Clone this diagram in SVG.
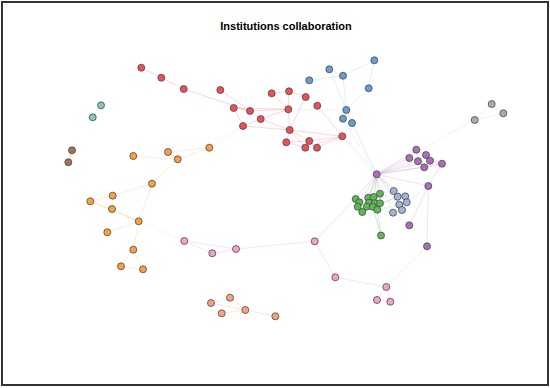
<svg xmlns="http://www.w3.org/2000/svg" width="550" height="388" viewBox="0 0 550 388">
<style>
.n{stroke:#4a4a4a;stroke-width:0.8}
.red{fill:#e9505a}.blue{fill:#6a9bd1}.green{fill:#5db85a}.purple{fill:#a96fb8}
.orange{fill:#f8a03e}.pink{fill:#f2a0cc}.brown{fill:#a8704c}.grey{fill:#ababab}
.teal{fill:#84c9b0}.salmon{fill:#f5a27c}.lblue{fill:#a3b3da}
.e{fill:none;stroke-width:1}
.er{stroke:#e8474e;stroke-opacity:0.22}
.eb{stroke:#6a9bd1;stroke-opacity:0.18}
.ep{stroke:#a96fb8;stroke-opacity:0.2}
.eo{stroke:#f8a03e;stroke-opacity:0.2}
.epk{stroke:#f2a0cc;stroke-opacity:0.3}
.eg{stroke:#5db85a;stroke-opacity:0.3}
.egr{stroke:#999;stroke-opacity:0.15}
.es{stroke:#f5a27c;stroke-opacity:0.25}
</style>
<rect x="0" y="0" width="550" height="388" fill="#fff"/>
<rect x="2" y="2" width="546" height="383" fill="none" stroke="#333" stroke-width="2"/>
<text x="286" y="30" text-anchor="middle" font-family="Liberation Sans, Arial, sans-serif" font-size="11" font-weight="bold" fill="#000">Institutions collaboration</text>
<g id="connectors">
<g class="e er">
<line x1="141.3" y1="67.7" x2="161.3" y2="77.7"/>
<line x1="161.3" y1="77.7" x2="183.7" y2="89"/>
<line x1="183.7" y1="89" x2="250" y2="111"/>
<line x1="220.3" y1="90" x2="250" y2="111"/>
<line x1="233.7" y1="108" x2="250" y2="111"/>
<line x1="233.7" y1="108" x2="243" y2="126"/>
<line x1="233.7" y1="108" x2="288.3" y2="109.3"/>
<line x1="250" y1="111" x2="260.7" y2="119"/>
<line x1="250" y1="111" x2="288.3" y2="109.3"/>
<line x1="243" y1="126" x2="260.7" y2="119"/>
<line x1="243" y1="126" x2="289.7" y2="130"/>
<line x1="260.7" y1="119" x2="288.3" y2="109.3"/>
<line x1="260.7" y1="119" x2="289.7" y2="130"/>
<line x1="271.7" y1="93.3" x2="289" y2="91.3"/>
<line x1="271.7" y1="93.3" x2="288.3" y2="109.3"/>
<line x1="289" y1="91.3" x2="288.3" y2="109.3"/>
<line x1="289" y1="91.3" x2="305.7" y2="97"/>
<line x1="305.7" y1="97" x2="289.7" y2="130"/>
<line x1="288.3" y1="109.3" x2="289.7" y2="130"/>
<line x1="317.3" y1="105.7" x2="342.3" y2="136.3"/>
<line x1="289.7" y1="130" x2="286.3" y2="142.3"/>
<line x1="289.7" y1="130" x2="309.3" y2="141"/>
<line x1="289.7" y1="130" x2="305.3" y2="147.7"/>
<line x1="289.7" y1="130" x2="342.3" y2="136.3"/>
<line x1="286.3" y1="142.3" x2="309.3" y2="141"/>
<line x1="286.3" y1="142.3" x2="305.3" y2="147.7"/>
<line x1="309.3" y1="141" x2="317" y2="147.7"/>
<line x1="305.3" y1="147.7" x2="342.3" y2="136.3"/>
<line x1="317" y1="147.7" x2="342.3" y2="136.3"/>
<line x1="309.3" y1="141" x2="342.3" y2="136.3"/>
<line x1="209.3" y1="147.7" x2="243" y2="126" stroke-opacity="0.08"/>
<line x1="342.3" y1="136.3" x2="376.7" y2="174.3" stroke-opacity="0.12"/>
</g>
<g class="e eb">
<line x1="309.3" y1="80.3" x2="343" y2="75.7"/>
<line x1="329.3" y1="69.3" x2="343" y2="75.7"/>
<line x1="329.3" y1="69.3" x2="346.3" y2="110"/>
<line x1="343" y1="75.7" x2="346.3" y2="110"/>
<line x1="374.3" y1="60.3" x2="343" y2="75.7"/>
<line x1="374.3" y1="60.3" x2="368.7" y2="88.3"/>
<line x1="368.7" y1="88.3" x2="346.3" y2="110"/>
<line x1="346.3" y1="110" x2="343" y2="118.7"/>
<line x1="346.3" y1="110" x2="352" y2="123"/>
<line x1="346.3" y1="110" x2="376.7" y2="174.3" stroke-opacity="0.1"/>
<line x1="352" y1="123" x2="376.7" y2="174.3" stroke-opacity="0.1"/>
<line x1="343" y1="118.7" x2="376.7" y2="174.3" stroke-opacity="0.1"/>
<line x1="346.3" y1="110" x2="288.3" y2="109.3" stroke-opacity="0.1"/>
</g>
<g class="e ep">
<line x1="376.7" y1="174.3" x2="416.3" y2="149.7"/>
<line x1="376.7" y1="174.3" x2="409.3" y2="158"/>
<line x1="376.7" y1="174.3" x2="418" y2="161.3"/>
<line x1="376.7" y1="174.3" x2="426" y2="155"/>
<line x1="376.7" y1="174.3" x2="430" y2="160.7"/>
<line x1="376.7" y1="174.3" x2="442" y2="163.7"/>
<line x1="376.7" y1="174.3" x2="424.3" y2="167.3"/>
<line x1="376.7" y1="174.3" x2="428.3" y2="186"/>
<line x1="416.3" y1="149.7" x2="426" y2="155"/>
<line x1="416.3" y1="149.7" x2="418" y2="161.3"/>
<line x1="426" y1="155" x2="430" y2="160.7"/>
<line x1="426" y1="155" x2="442" y2="163.7"/>
<line x1="409.3" y1="158" x2="418" y2="161.3"/>
<line x1="418" y1="161.3" x2="424.3" y2="167.3"/>
<line x1="430" y1="160.7" x2="442" y2="163.7"/>
<line x1="424.3" y1="167.3" x2="442" y2="163.7"/>
<line x1="442" y1="163.7" x2="428.3" y2="186"/>
<line x1="428.3" y1="186" x2="427" y2="246.3"/>
<line x1="428.3" y1="186" x2="409.3" y2="225.3"/>
<line x1="474.7" y1="120" x2="376.7" y2="174.3" stroke-opacity="0.1"/>
<line x1="376.7" y1="174.3" x2="314.7" y2="241.3" stroke-opacity="0.1"/>
</g>
<g class="e egr">
<line x1="491.7" y1="104" x2="503.3" y2="113.3"/>
<line x1="491.7" y1="104" x2="474.7" y2="120"/>
<line x1="503.3" y1="113.3" x2="474.7" y2="120"/>
<line x1="376.7" y1="174.3" x2="393.7" y2="191"/>
<line x1="376.7" y1="174.3" x2="397.7" y2="196.7"/>
<line x1="376.7" y1="174.3" x2="405.3" y2="196.3"/>
<line x1="376.7" y1="174.3" x2="406.7" y2="202.3"/>
<line x1="376.7" y1="174.3" x2="399.3" y2="204.7"/>
<line x1="376.7" y1="174.3" x2="402" y2="210"/>
<line x1="376.7" y1="174.3" x2="393" y2="212.7"/>
<line x1="376.7" y1="174.3" x2="355.7" y2="199"/>
<line x1="376.7" y1="174.3" x2="359.3" y2="202.3"/>
<line x1="376.7" y1="174.3" x2="357.7" y2="206.7"/>
<line x1="376.7" y1="174.3" x2="362.3" y2="212"/>
<line x1="376.7" y1="174.3" x2="368.3" y2="197.7"/>
<line x1="376.7" y1="174.3" x2="373.7" y2="197"/>
<line x1="376.7" y1="174.3" x2="380" y2="193.7"/>
<line x1="376.7" y1="174.3" x2="369" y2="202.7"/>
<line x1="376.7" y1="174.3" x2="374.7" y2="203.3"/>
<line x1="376.7" y1="174.3" x2="380" y2="203.3"/>
<line x1="376.7" y1="174.3" x2="366.7" y2="206.7"/>
<line x1="376.7" y1="174.3" x2="372.7" y2="206.7"/>
<line x1="376.7" y1="174.3" x2="377.3" y2="209.7"/>
<line x1="380" y1="193.7" x2="393.7" y2="191"/>
<line x1="380" y1="203.3" x2="397.7" y2="196.7"/>
<line x1="380" y1="203.3" x2="405.3" y2="196.3"/>
<line x1="380" y1="203.3" x2="406.7" y2="202.3"/>
<line x1="377.3" y1="209.7" x2="399.3" y2="204.7"/>
<line x1="377.3" y1="209.7" x2="402" y2="210"/>
<line x1="377.3" y1="209.7" x2="393" y2="212.7"/>
<line x1="374.7" y1="203.3" x2="393.7" y2="191"/>
<line x1="372.7" y1="206.7" x2="397.7" y2="196.7"/>
<line x1="393" y1="212.7" x2="409.3" y2="225.3"/>
<line x1="406.7" y1="202.3" x2="428.3" y2="186"/>
<line x1="393.7" y1="191" x2="397.7" y2="196.7"/>
<line x1="397.7" y1="196.7" x2="405.3" y2="196.3"/>
<line x1="405.3" y1="196.3" x2="406.7" y2="202.3"/>
<line x1="399.3" y1="204.7" x2="402" y2="210"/>
<line x1="399.3" y1="204.7" x2="406.7" y2="202.3"/>
<line x1="393" y1="212.7" x2="402" y2="210"/>
<line x1="355.7" y1="199" x2="314.7" y2="241.3"/>
</g>
<g class="e eg">
<line x1="355.7" y1="199" x2="359.3" y2="202.3"/>
<line x1="359.3" y1="202.3" x2="357.7" y2="206.7"/>
<line x1="357.7" y1="206.7" x2="362.3" y2="212"/>
<line x1="359.3" y1="202.3" x2="368.3" y2="197.7"/>
<line x1="368.3" y1="197.7" x2="373.7" y2="197"/>
<line x1="373.7" y1="197" x2="380" y2="193.7"/>
<line x1="368.3" y1="197.7" x2="369" y2="202.7"/>
<line x1="369" y1="202.7" x2="374.7" y2="203.3"/>
<line x1="374.7" y1="203.3" x2="380" y2="203.3"/>
<line x1="369" y1="202.7" x2="366.7" y2="206.7"/>
<line x1="366.7" y1="206.7" x2="372.7" y2="206.7"/>
<line x1="372.7" y1="206.7" x2="377.3" y2="209.7"/>
<line x1="362.3" y1="212" x2="366.7" y2="206.7"/>
<line x1="373.7" y1="197" x2="374.7" y2="203.3"/>
<line x1="380" y1="193.7" x2="380" y2="203.3"/>
<line x1="380" y1="203.3" x2="377.3" y2="209.7"/>
<line x1="359.3" y1="202.3" x2="369" y2="202.7"/>
<line x1="381" y1="235.3" x2="372.7" y2="206.7"/>
<line x1="381" y1="235.3" x2="377.3" y2="209.7"/>
</g>
<g class="e eo">
<line x1="133.3" y1="156" x2="177.7" y2="159.3"/>
<line x1="168" y1="152" x2="177.7" y2="159.3"/>
<line x1="168" y1="152" x2="209.3" y2="147.7"/>
<line x1="177.7" y1="159.3" x2="209.3" y2="147.7"/>
<line x1="177.7" y1="159.3" x2="152" y2="183.7"/>
<line x1="152" y1="183.7" x2="112.7" y2="195.7"/>
<line x1="152" y1="183.7" x2="138.7" y2="221.3"/>
<line x1="112.7" y1="195.7" x2="90.3" y2="201.3"/>
<line x1="112.7" y1="195.7" x2="112" y2="209"/>
<line x1="90.3" y1="201.3" x2="112" y2="209"/>
<line x1="90.3" y1="201.3" x2="138.7" y2="221.3"/>
<line x1="112" y1="209" x2="138.7" y2="221.3"/>
<line x1="138.7" y1="221.3" x2="107.3" y2="232.3"/>
<line x1="138.7" y1="221.3" x2="133.3" y2="249.7"/>
<line x1="133.3" y1="249.7" x2="121" y2="266.3"/>
<line x1="133.3" y1="249.7" x2="143" y2="269.3"/>
<line x1="121" y1="266.3" x2="143" y2="269.3"/>
<line x1="138.7" y1="221.3" x2="184.3" y2="241" stroke-opacity="0.12"/>
</g>
<g class="e epk">
<line x1="101" y1="105.3" x2="92.7" y2="117.3" stroke="#84c9b0"/>
<line x1="72" y1="150.3" x2="68.3" y2="162.3" stroke="#a8704c"/>
<line x1="184.3" y1="241" x2="212.3" y2="253.3"/>
<line x1="184.3" y1="241" x2="236" y2="249"/>
<line x1="212.3" y1="253.3" x2="236" y2="249"/>
<line x1="236" y1="249" x2="314.7" y2="241.3"/>
<line x1="314.7" y1="241.3" x2="335.3" y2="277.3"/>
<line x1="335.3" y1="277.3" x2="386.3" y2="287"/>
<line x1="386.3" y1="287" x2="377" y2="300"/>
<line x1="386.3" y1="287" x2="390.3" y2="301.7"/>
<line x1="377" y1="300" x2="390.3" y2="301.7"/>
<line x1="386.3" y1="287" x2="427" y2="246.3" stroke="#a96fb8" stroke-opacity="0.15"/>
</g>
<g class="e es">
<line x1="211" y1="303" x2="230" y2="297.7"/>
<line x1="211" y1="303" x2="245.3" y2="310"/>
<line x1="230" y1="297.7" x2="245.3" y2="310"/>
<line x1="221.7" y1="313.3" x2="245.3" y2="310"/>
<line x1="245.3" y1="310" x2="275.3" y2="316.3"/>
</g>
</g>
<g id="nodes" class="n">
<g id="red"><circle class="red" cx="141.3" cy="67.7" r="3.5"/><circle class="red" cx="161.3" cy="77.7" r="3.5"/><circle class="red" cx="183.7" cy="89" r="3.5"/><circle class="red" cx="220.3" cy="90" r="3.5"/><circle class="red" cx="233.7" cy="108" r="3.5"/><circle class="red" cx="250" cy="111" r="3.5"/><circle class="red" cx="260.7" cy="119" r="3.5"/><circle class="red" cx="243" cy="126" r="3.5"/><circle class="red" cx="271.7" cy="93.3" r="3.5"/><circle class="red" cx="289" cy="91.3" r="3.5"/><circle class="red" cx="305.7" cy="97" r="3.5"/><circle class="red" cx="317.3" cy="105.7" r="3.5"/><circle class="red" cx="288.3" cy="109.3" r="3.5"/><circle class="red" cx="289.7" cy="130" r="3.5"/><circle class="red" cx="286.3" cy="142.3" r="3.5"/><circle class="red" cx="309.3" cy="141" r="3.5"/><circle class="red" cx="305.3" cy="147.7" r="3.5"/><circle class="red" cx="317" cy="147.7" r="3.5"/><circle class="red" cx="342.3" cy="136.3" r="3.5"/></g>
<g id="blue"><circle class="blue" cx="309.3" cy="80.3" r="3.5"/><circle class="blue" cx="329.3" cy="69.3" r="3.5"/><circle class="blue" cx="343" cy="75.7" r="3.5"/><circle class="blue" cx="374.3" cy="60.3" r="3.5"/><circle class="blue" cx="368.7" cy="88.3" r="3.5"/><circle class="blue" cx="346.3" cy="110" r="3.5"/><circle class="blue" cx="343" cy="118.7" r="3.5"/><circle class="blue" cx="352" cy="123" r="3.5"/></g>
<g id="purple"><circle class="purple" cx="416.3" cy="149.7" r="3.5"/><circle class="purple" cx="426" cy="155" r="3.5"/><circle class="purple" cx="409.3" cy="158" r="3.5"/><circle class="purple" cx="418" cy="161.3" r="3.5"/><circle class="purple" cx="430" cy="160.7" r="3.5"/><circle class="purple" cx="442" cy="163.7" r="3.5"/><circle class="purple" cx="424.3" cy="167.3" r="3.5"/><circle class="purple" cx="376.7" cy="174.3" r="3.5"/><circle class="purple" cx="428.3" cy="186" r="3.5"/><circle class="purple" cx="409.3" cy="225.3" r="3.5"/><circle class="purple" cx="427" cy="246.3" r="3.5"/></g>
<g id="grey"><circle class="grey" cx="491.7" cy="104" r="3.5"/><circle class="grey" cx="503.3" cy="113.3" r="3.5"/><circle class="grey" cx="474.7" cy="120" r="3.5"/></g>
<g id="lightblue"><circle class="lblue" cx="393.7" cy="191" r="3.5"/><circle class="lblue" cx="397.7" cy="196.7" r="3.5"/><circle class="lblue" cx="405.3" cy="196.3" r="3.5"/><circle class="lblue" cx="406.7" cy="202.3" r="3.5"/><circle class="lblue" cx="399.3" cy="204.7" r="3.5"/><circle class="lblue" cx="402" cy="210" r="3.5"/><circle class="lblue" cx="393" cy="212.7" r="3.5"/></g>
<g id="green"><circle class="green" cx="355.7" cy="199" r="3.5"/><circle class="green" cx="359.3" cy="202.3" r="3.5"/><circle class="green" cx="357.7" cy="206.7" r="3.5"/><circle class="green" cx="362.3" cy="212" r="3.5"/><circle class="green" cx="368.3" cy="197.7" r="3.5"/><circle class="green" cx="373.7" cy="197" r="3.5"/><circle class="green" cx="380" cy="193.7" r="3.5"/><circle class="green" cx="369" cy="202.7" r="3.5"/><circle class="green" cx="374.7" cy="203.3" r="3.5"/><circle class="green" cx="380" cy="203.3" r="3.5"/><circle class="green" cx="366.7" cy="206.7" r="3.5"/><circle class="green" cx="372.7" cy="206.7" r="3.5"/><circle class="green" cx="377.3" cy="209.7" r="3.5"/><circle class="green" cx="381" cy="235.5" r="3.5"/></g>
<g id="orange"><circle class="orange" cx="133.3" cy="156" r="3.5"/><circle class="orange" cx="168" cy="152" r="3.5"/><circle class="orange" cx="177.7" cy="159.3" r="3.5"/><circle class="orange" cx="209.3" cy="147.7" r="3.5"/><circle class="orange" cx="152" cy="183.7" r="3.5"/><circle class="orange" cx="112.7" cy="195.7" r="3.5"/><circle class="orange" cx="90.3" cy="201.3" r="3.5"/><circle class="orange" cx="112" cy="209" r="3.5"/><circle class="orange" cx="138.7" cy="221.3" r="3.5"/><circle class="orange" cx="107.3" cy="232.3" r="3.5"/><circle class="orange" cx="133.3" cy="249.7" r="3.5"/><circle class="orange" cx="121" cy="266.3" r="3.5"/><circle class="orange" cx="143" cy="269.3" r="3.5"/></g>
<g id="teal"><circle class="teal" cx="101" cy="105.3" r="3.5"/><circle class="teal" cx="92.7" cy="117.3" r="3.5"/></g>
<g id="brown"><circle class="brown" cx="72" cy="150.3" r="3.5"/><circle class="brown" cx="68.3" cy="162.3" r="3.5"/></g>
<g id="pink"><circle class="pink" cx="184.3" cy="241" r="3.5"/><circle class="pink" cx="212.3" cy="253.3" r="3.5"/><circle class="pink" cx="236" cy="249" r="3.5"/><circle class="pink" cx="314.7" cy="241.3" r="3.5"/><circle class="pink" cx="335.3" cy="277.3" r="3.5"/><circle class="pink" cx="386.3" cy="287" r="3.5"/><circle class="pink" cx="377" cy="300" r="3.5"/><circle class="pink" cx="390.3" cy="301.7" r="3.5"/></g>
<g id="salmon"><circle class="salmon" cx="230" cy="297.7" r="3.5"/><circle class="salmon" cx="211" cy="303" r="3.5"/><circle class="salmon" cx="245.3" cy="310" r="3.5"/><circle class="salmon" cx="221.7" cy="313.3" r="3.5"/><circle class="salmon" cx="275.3" cy="316.3" r="3.5"/></g>
</g>
</svg>
